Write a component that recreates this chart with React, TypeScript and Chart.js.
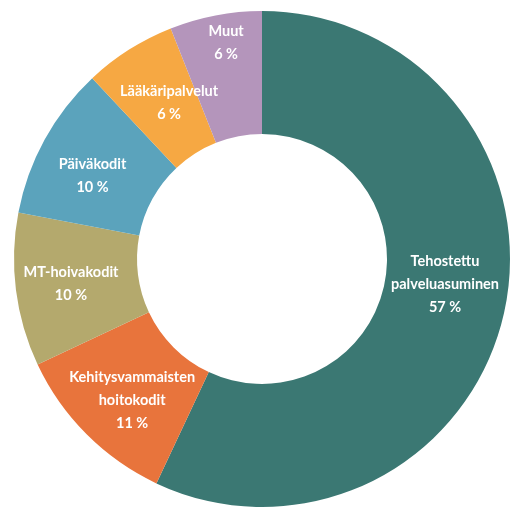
import React, { useEffect, useRef } from "react";
import { Chart, registerables } from "chart.js";

Chart.register(...registerables);

const labels: string[][] = [
  ["Tehostettu", "palveluasuminen"],
  ["Kehitysvammaisten", "hoitokodit"],
  ["MT-hoivakodit"],
  ["Päiväkodit"],
  ["Lääkäripalvelut"],
  ["Muut"],
];
const values: number[] = [57, 11, 10, 10, 6, 6];
const colors: string[] = ["#3b7873", "#e8743c", "#b4a96d", "#5ba3bc", "#f6a843", "#b495bb"];
// label nudges relative to the slice's mid-ring point
const labelOffsets: [number, number][] = [
  [1, -15],
  [2, 9],
  [-6, 1],
  [-6, 7],
  [7, 1],
  [-1, -33],
];

const labelPlugin = {
  id: "sliceLabels",
  afterDatasetsDraw(chart: any) {
    const ctx = chart.ctx;
    const meta = chart.getDatasetMeta(0);
    ctx.save();
    ctx.fillStyle = "#ffffff";
    ctx.textAlign = "center";
    ctx.textBaseline = "middle";
    ctx.font = "bold 14.5px Lato, sans-serif";
    const lh = 23;
    meta.data.forEach((arc: any, i: number) => {
      const pos = arc.tooltipPosition();
      const [dx, dy] = labelOffsets[i];
      const lines = [...labels[i], `${values[i]} %`];
      const startY = pos.y + dy - ((lines.length - 1) * lh) / 2;
      lines.forEach((ln, j) => ctx.fillText(ln, pos.x + dx, startY + j * lh));
    });
    ctx.restore();
  },
};

export default function App() {
  const ref = useRef<HTMLCanvasElement | null>(null);
  useEffect(() => {
    if (!ref.current) return;
    const chart = new Chart(ref.current, {
      type: "doughnut",
      data: {
        labels: labels.map((l) => l.join(" ")),
        datasets: [
          {
            data: values,
            backgroundColor: colors,
            borderWidth: 0,
          },
        ],
      },
      options: {
        animation: false,
        responsive: false,
        cutout: "50.4%",
        layout: { padding: { left: 14, right: 2, top: 11, bottom: 1 } },
        plugins: { legend: { display: false }, tooltip: { enabled: false } },
      },
      plugins: [labelPlugin],
    });
    return () => chart.destroy();
  }, []);
  return (
    <div style={{ position: "fixed", left: 0, top: 0, width: 512, height: 508, background: "#fff" }}>
      <canvas ref={ref} width={512} height={508} style={{ width: 512, height: 508 }} />
    </div>
  );
}
